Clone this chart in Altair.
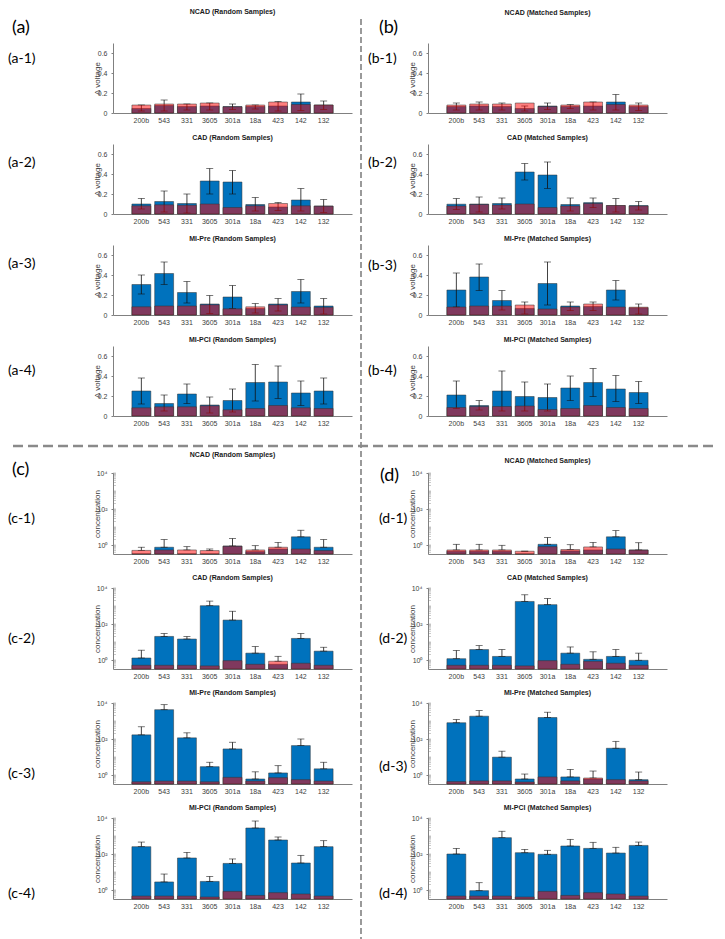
import altair as alt
import pandas as pd

NAMES = ["200b", "543", "331", "3605", "301a", "18a", "423", "142", "132"]

# ---------- (a) Random samples, delta voltage ----------
A1_BLUE = [0.045, 0.075, 0.065, 0.07, 0.065, 0.065, 0.07, 0.11, 0.08]
A1_RED = [0.08, 0.09, 0.09, 0.10, 0.062, 0.08, 0.11, 0.085, 0.08]
A1_HI = [0.08, 0.13, 0.09, 0.10, 0.09, 0.08, 0.115, 0.19, 0.12]
A1_LO = [0.02, 0.02, 0.03, 0.03, 0.035, 0.04, 0.02, 0.025, 0.035]

A2_BLUE = [0.10, 0.125, 0.105, 0.33, 0.32, 0.095, 0.07, 0.14, 0.08]
A2_RED = [0.082, 0.092, 0.088, 0.10, 0.065, 0.082, 0.105, 0.082, 0.078]
A2_HI = [0.155, 0.23, 0.20, 0.455, 0.435, 0.165, 0.115, 0.255, 0.145]
A2_LO = [0.05, 0.02, 0.01, 0.20, 0.20, 0.03, 0.035, 0.03, 0.015]

A3_BLUE = [0.305, 0.415, 0.225, 0.11, 0.18, 0.065, 0.11, 0.235, 0.09]
A3_RED = [0.082, 0.09, 0.09, 0.102, 0.062, 0.082, 0.101, 0.08, 0.077]
A3_HI = [0.40, 0.53, 0.335, 0.195, 0.295, 0.115, 0.165, 0.355, 0.165]
A3_LO = [0.21, 0.305, 0.12, 0.015, 0.065, 0.02, 0.04, 0.12, 0.01]

A4_BLUE = [0.25, 0.125, 0.22, 0.11, 0.155, 0.335, 0.34, 0.23, 0.25]
A4_RED = [0.082, 0.092, 0.092, 0.102, 0.062, 0.075, 0.105, 0.082, 0.075]
A4_HI = [0.38, 0.21, 0.32, 0.19, 0.27, 0.515, 0.50, 0.35, 0.38]
A4_LO = [0.12, 0.05, 0.125, 0.03, 0.04, 0.15, 0.175, 0.105, 0.12]

# ---------- (b) Matched samples, delta voltage ----------
B1_BLUE = [0.065, 0.07, 0.065, 0.045, 0.07, 0.065, 0.07, 0.11, 0.065]
B1_RED = [0.08, 0.09, 0.09, 0.10, 0.065, 0.08, 0.11, 0.085, 0.08]
B1_HI = [0.10, 0.11, 0.10, 0.07, 0.10, 0.085, 0.11, 0.185, 0.10]
B1_LO = [0.03, 0.03, 0.03, 0.02, 0.035, 0.045, 0.03, 0.03, 0.025]

B2_BLUE = [0.098, 0.10, 0.105, 0.42, 0.39, 0.095, 0.114, 0.085, 0.085]
B2_RED = [0.08, 0.095, 0.09, 0.10, 0.065, 0.08, 0.105, 0.085, 0.08]
B2_HI = [0.155, 0.17, 0.16, 0.505, 0.52, 0.16, 0.16, 0.155, 0.125]
B2_LO = [0.045, 0.02, 0.05, 0.34, 0.255, 0.03, 0.065, 0.02, 0.04]

B3_BLUE = [0.25, 0.38, 0.145, 0.065, 0.315, 0.09, 0.085, 0.25, 0.072]
B3_RED = [0.08, 0.09, 0.09, 0.10, 0.06, 0.08, 0.11, 0.08, 0.078]
B3_HI = [0.42, 0.51, 0.245, 0.13, 0.53, 0.13, 0.13, 0.345, 0.11]
B3_LO = [0.08, 0.245, 0.05, 0.01, 0.10, 0.045, 0.045, 0.15, 0.01]

B4_BLUE = [0.21, 0.105, 0.25, 0.195, 0.185, 0.28, 0.335, 0.27, 0.235]
B4_RED = [0.085, 0.095, 0.095, 0.10, 0.065, 0.075, 0.105, 0.085, 0.075]
B4_HI = [0.35, 0.155, 0.45, 0.34, 0.32, 0.40, 0.475, 0.405, 0.345]
B4_LO = [0.075, 0.06, 0.05, 0.05, 0.05, 0.155, 0.195, 0.145, 0.125]

# ---------- (c) Random samples, concentration (log) ----------
C1_BLUE = [0.2, 0.75, 0.2, 0.2, 0.88, 0.43, 0.6, 2.85, 0.75]
C1_RED = [0.5, 0.53, 0.53, 0.49, 0.85, 0.53, 0.75, 0.6, 0.49]
C1_HI = [0.75, 2.0, 0.81, 0.6, 2.3, 0.92, 1.4, 6.6, 2.0]

C2_BLUE = [1.29, 20.4, 14.6, 1040, 165, 2.4, 0.58, 15.8, 3.1]
C2_RED = [0.51, 0.51, 0.51, 0.47, 0.92, 0.58, 0.85, 0.66, 0.51]
C2_HI = [3.5, 29.6, 20, 1870, 510, 5.6, 1.6, 29.6, 5.1]

C3_BLUE = [170, 4260, 116, 2.9, 28, 0.6, 1.3, 43, 2.2]
C3_RED = [0.42, 0.46, 0.46, 0.42, 0.74, 0.46, 0.71, 0.55, 0.46]
C3_HI = [478, 8100, 220, 5.1, 66, 1.5, 3.3, 100, 5.1]

C4_BLUE = [256, 2.8, 60, 3.0, 30, 2780, 600, 31.6, 256]
C4_RED = [0.46, 0.46, 0.46, 0.41, 0.84, 0.5, 0.71, 0.6, 0.46]
C4_HI = [460, 7.7, 123, 5.7, 53, 6800, 880, 84, 550]

# ---------- (d) Matched samples, concentration (log) ----------
D1_BLUE = [0.45, 0.45, 0.45, 0.2, 1.09, 0.47, 0.53, 2.85, 0.53]
D1_RED = [0.53, 0.53, 0.53, 0.45, 0.81, 0.56, 0.78, 0.6, 0.52]
D1_HI = [1.09, 1.09, 0.96, 0.45, 2.6, 1.04, 1.4, 6.3, 1.34]

D2_BLUE = [1.18, 3.8, 1.58, 1790, 1190, 2.4, 1.09, 1.58, 0.96]
D2_RED = [0.51, 0.51, 0.51, 0.47, 0.92, 0.58, 0.85, 0.66, 0.51]
D2_HI = [3.4, 6.3, 3.8, 4200, 2630, 5.3, 2.85, 3.8, 2.4]

D3_BLUE = [800, 1850, 9.8, 0.6, 1560, 0.78, 0.6, 30.6, 0.55]
D3_RED = [0.43, 0.47, 0.47, 0.41, 0.78, 0.47, 0.68, 0.55, 0.47]
D3_HI = [1210, 3780, 21, 1.13, 3070, 2.05, 1.66, 74, 1.46]

D4_BLUE = [100, 0.92, 810, 118, 96, 278, 205, 113, 300]
D4_RED = [0.46, 0.46, 0.46, 0.41, 0.84, 0.5, 0.71, 0.6, 0.46]
D4_HI = [205, 2.55, 1830, 180, 160, 650, 445, 235, 460]

# minor ticks of the log axis (multiples of each decade)
LOG_MINOR = [m * 10 ** k for k in range(-1, 4) for m in range(1, 10)
             if 10 ** -0.5 <= m * 10 ** k <= 10000] + [10000]

BLUE = "#0072BD"
RED = "#FF0000"
FONT = "Liberation Sans"
LABEL_FONT = "Lato"
AX_COL = "#808080"
TXT_COL = "#404040"
LOG_MIN = 10 ** -0.5
W = 239


def text_layer(txt, x, y, size, baseline="middle"):
    return alt.Chart(pd.DataFrame({"t": [txt]})).mark_text(
        font=LABEL_FONT, fontSize=size, align="left", baseline=baseline, color="black"
    ).encode(x=alt.value(x), y=alt.value(y), text="t:N")


def make_panel(title, blue, red, hi, lo, log, H, h, labels, extras=()):
    if log:
        lo = [max(b, r) for b, r in zip(blue, red)]
        blue = [max(v, LOG_MIN) for v in blue]
        red = [max(v, LOG_MIN) for v in red]
        base = LOG_MIN
        yscale = alt.Scale(type="log", domain=[LOG_MIN, 10000], range=[h, 0], nice=False)
        yaxis = alt.Axis(
            values=[1, 100, 10000],
            labelExpr="datum.value == 1 ? '10⁰' : (datum.value == 100 ? '10²' : '10⁴')",
            title="concentration", titleX=-12, titleY=h / 2,
        )
    else:
        base = 0.0
        yscale = alt.Scale(domain=[0, 0.7], range=[h, 0], nice=False)
        yaxis = alt.Axis(values=[0, 0.2, 0.4, 0.6], format=".1~f",
                         title="Δ voltage", titleX=-12, titleY=h / 2)
    yaxis = yaxis.to_dict()
    yaxis.update(dict(
        grid=False, titleAngle=270, titleBaseline="bottom", titleAlign="center",
        titleFontSize=8, titleFontWeight="normal", titleColor=TXT_COL, titleFont=FONT,
        labelFontSize=7, labelColor=TXT_COL, labelFont=FONT, domainColor=AX_COL,
        tickColor=AX_COL, tickSize=2, labelPadding=4,
    ))
    yaxis = alt.Axis(**yaxis)

    df = pd.DataFrame({"name": NAMES, "blue": blue, "red": red,
                       "lo": lo, "hi": hi, "base": base})
    xenc = alt.X("name:N", sort=NAMES,
                 scale=alt.Scale(domain=NAMES, paddingInner=0.17, paddingOuter=0.83),
                 axis=alt.Axis(title=None, labelAngle=0, ticks=False, domainColor=AX_COL,
                               labelFontSize=7, labelColor=TXT_COL, labelFont=FONT,
                               labelPadding=3, grid=False, offset=-(H - h)))

    def yenc(f):
        return alt.Y(f"{f}:Q", scale=yscale, axis=yaxis)

    c = alt.Chart(df)
    layers = [
        c.mark_bar(fill=BLUE, stroke="#333333", strokeWidth=0.5).encode(
            x=xenc, y=yenc("blue"), y2=alt.Y2("base:Q")),
        c.mark_rule(color="#111111", strokeWidth=0.8).encode(
            x=xenc, y=yenc("lo"), y2=alt.Y2("hi:Q")),
        c.mark_tick(color="#111111", size=7, thickness=0.8).encode(x=xenc, y=yenc("hi")),
        c.mark_tick(color="#111111", size=7, thickness=0.8).encode(x=xenc, y=yenc("lo")),
        c.mark_bar(fill=RED, fillOpacity=0.5, stroke="#333333", strokeWidth=0.5).encode(
            x=xenc, y=yenc("red"), y2=alt.Y2("base:Q")),
    ]
    if log:
        layers.append(
            alt.Chart(pd.DataFrame({"m": LOG_MINOR})).mark_tick(
                color=AX_COL, size=3, thickness=0.6
            ).encode(x=alt.value(1.5), y=alt.Y("m:Q", scale=yscale, axis=yaxis))
        )
    for (txt, x, y, size, bl) in labels:
        layers.append(text_layer(txt, x, y, size, bl))
    layers.extend(extras)
    return alt.layer(*layers).properties(
        width=W, height=H,
        title=alt.TitleParams(title, fontSize=7, font=FONT, fontWeight="bold",
                              color="#1a1a1a", offset=3, frame="group", anchor="middle"),
    )


one = pd.DataFrame({"k": [0]})
vline = alt.Chart(one).mark_rule(color="#9a9a9a", strokeWidth=2, strokeDash=[6, 3]).encode(
    x=alt.value(248), y=alt.value(-24), y2=alt.value(896))
hline = alt.Chart(one).mark_rule(color="#8a8a8a", strokeWidth=2.5, strokeDash=[10, 5]).encode(
    y=alt.value(100), x=alt.value(-100), x2=alt.value(602))

TOP_H, LOG_H = 70, 81

panels = [
    make_panel("NCAD (Random Samples)", A1_BLUE, A1_RED, A1_HI, A1_LO, False, 70, TOP_H,
               [("(a)", -101, -24, 18, "top"), ("(a-1)", -105, 16, 14, "middle")], [vline]),
    make_panel("NCAD (Matched Samples)", B1_BLUE, B1_RED, B1_HI, B1_LO, False, 70, TOP_H,
               [("(b)", -49, -24, 18, "top"), ("(b-1)", -60, 16, 14, "middle")]),
    make_panel("CAD (Random Samples)", A2_BLUE, A2_RED, A2_HI, A2_LO, False, 70, TOP_H,
               [("(a-2)", -105, 19, 14, "middle")]),
    make_panel("CAD (Matched Samples)", B2_BLUE, B2_RED, B2_HI, B2_LO, False, 70, TOP_H,
               [("(b-2)", -60, 19, 14, "middle")]),
    make_panel("MI-Pre (Random Samples)", A3_BLUE, A3_RED, A3_HI, A3_LO, False, 70, TOP_H,
               [("(a-3)", -105, 19, 14, "middle")]),
    make_panel("MI-Pre (Matched Samples)", B3_BLUE, B3_RED, B3_HI, B3_LO, False, 70, TOP_H,
               [("(b-3)", -60, 21, 14, "middle")]),
    make_panel("MI-PCI (Random Samples)", A4_BLUE, A4_RED, A4_HI, A4_LO, False, 96, TOP_H,
               [("(a-4)", -105, 25, 14, "middle")], [hline]),
    make_panel("MI-PCI (Matched Samples)", B4_BLUE, B4_RED, B4_HI, B4_LO, False, 96, TOP_H,
               [("(b-4)", -60, 25, 14, "middle")]),
    make_panel("NCAD (Random Samples)", C1_BLUE, C1_RED, C1_HI, None, True, 84, LOG_H,
               [("(c)", -101, -3, 18, "middle"), ("(c-1)", -105, 46, 14, "middle")]),
    make_panel("NCAD (Matched Samples)", D1_BLUE, D1_RED, D1_HI, None, True, 84, LOG_H,
               [("(d)", -48, 3, 18, "middle"), ("(d-1)", -49, 46, 14, "middle")]),
    make_panel("CAD (Random Samples)", C2_BLUE, C2_RED, C2_HI, None, True, 84, LOG_H,
               [("(c-2)", -105, 51, 14, "middle")]),
    make_panel("CAD (Matched Samples)", D2_BLUE, D2_RED, D2_HI, None, True, 84, LOG_H,
               [("(d-2)", -49, 51, 14, "middle")]),
    make_panel("MI-Pre (Random Samples)", C3_BLUE, C3_RED, C3_HI, None, True, 84, LOG_H,
               [("(c-3)", -105, 71, 14, "middle")]),
    make_panel("MI-Pre (Matched Samples)", D3_BLUE, D3_RED, D3_HI, None, True, 84, LOG_H,
               [("(d-3)", -49, 64, 14, "middle")]),
    make_panel("MI-PCI (Random Samples)", C4_BLUE, C4_RED, C4_HI, None, True, 84, LOG_H,
               [("(c-4)", -105, 76, 14, "middle")]),
    make_panel("MI-PCI (Matched Samples)", D4_BLUE, D4_RED, D4_HI, None, True, 84, LOG_H,
               [("(d-4)", -49, 76, 14, "middle")]),
]

chart = alt.concat(
    *panels, columns=2, spacing={"row": 31, "column": 76}, bounds="flush", align="each"
).properties(padding=0, background="white").configure_view(stroke=None)

chart.save("out.html", embed_options={"renderer": "svg", "actions": False})
